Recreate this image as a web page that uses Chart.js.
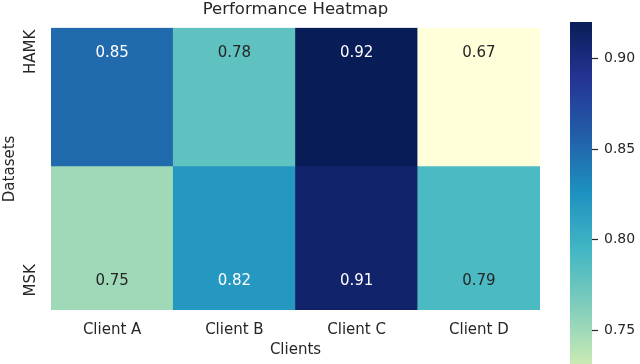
<!DOCTYPE html>
<html><head><meta charset="utf-8">
<script src="https://cdn.jsdelivr.net/npm/chart.js@4.4.1/dist/chart.umd.min.js"></script>
<style>
html,body{margin:0;padding:0;background:#fff;overflow:hidden;}
#wrap{position:relative;width:640px;height:364px;overflow:hidden;background:#fff;}
#main{position:absolute;left:0;top:0;}
#cb{position:absolute;left:560px;top:0;}
</style></head><body>
<div id="wrap">
<canvas id="main" width="640" height="364"></canvas>
<canvas id="cb" width="80" height="490"></canvas>
</div>
<script>
// ---- data ----
const clients = ['Client A', 'Client B', 'Client C', 'Client D'];
const datasetNames = ['HAMK', 'MSK'];
const hamk = [0.85, 0.78, 0.92, 0.67];
const msk = [0.75, 0.82, 0.91, 0.79];
const rowEdges = [-0.105, 0.5, 1.13];
const colorbarTicks = [0.75, 0.80, 0.85, 0.90];
const vmin = 0.67, vmax = 0.92;
const ylgnbu = ['#ffffd9','#edf8b1','#c7e9b4','#7fcdbb','#41b6c4','#1d91c0','#225ea8','#253494','#081d58'];

const F = "'DejaVu Sans', sans-serif";
const TXT = '#262626';

function hex2rgb(h){return [parseInt(h.slice(1,3),16),parseInt(h.slice(3,5),16),parseInt(h.slice(5,7),16)];}
function cmapRGB(v){
  let t = (v - vmin) / (vmax - vmin);
  t = Math.max(0, Math.min(1, t));
  const n = ylgnbu.length - 1;
  const i = Math.min(n - 1, Math.floor(t * n));
  const f = t * n - i;
  const a = hex2rgb(ylgnbu[i]), b = hex2rgb(ylgnbu[i+1]);
  return a.map((c, k) => Math.round(c + (b[k] - c) * f));
}
function cmap(v){const c = cmapRGB(v); return `rgb(${c[0]},${c[1]},${c[2]})`;}
function textColor(v){
  const lin = cmapRGB(v).map(c => {c /= 255; return c <= 0.03928 ? c / 12.92 : Math.pow((c + 0.055) / 1.055, 2.4);});
  const lum = 0.2126 * lin[0] + 0.7152 * lin[1] + 0.0722 * lin[2];
  return lum > 0.4 ? TXT : '#ffffff';
}

const rows = [hamk, msk];

const annot = {
  id: 'annot',
  afterDatasetsDraw(chart){
    const {ctx, scales: {x, y}} = chart;
    ctx.save();
    ctx.font = `15px ${F}`;
    ctx.textAlign = 'center';
    ctx.textBaseline = 'middle';
    rows.forEach((vals, r) => vals.forEach((v, c) => {
      ctx.fillStyle = textColor(v);
      ctx.fillText(v.toFixed(2), x.getPixelForValue(c), y.getPixelForValue(r) + 1);
    }));
    ctx.restore();
  }
};

new Chart(document.getElementById('main'), {
  type: 'bar',
  data: {
    labels: clients,
    datasets: rows.map((vals, r) => ({
      label: datasetNames[r],
      data: vals.map(() => [rowEdges[r], rowEdges[r + 1]]),
      backgroundColor: vals.map(cmap),
      borderWidth: 0,
      borderSkipped: false,
      barPercentage: 1,
      categoryPercentage: 1,
      grouped: false
    }))
  },
  options: {
    responsive: false,
    animation: false,
    devicePixelRatio: 1,
    layout: {padding: {left: 0, right: 100, top: 0, bottom: 0}},
    plugins: {
      legend: {display: false},
      tooltip: {enabled: false},
      title: {display: true, fullSize: false, text: 'Performance Heatmap', color: TXT,
        font: {family: F, size: 16.5, weight: 'normal'}, padding: {top: 0, bottom: 8}}
    },
    scales: {
      x: {
        type: 'category', offset: true,
        grid: {display: false, drawTicks: false}, border: {display: false},
        ticks: {color: TXT, font: {family: F, size: 15}, padding: 11},
        title: {display: true, text: 'Clients', color: TXT, font: {family: F, size: 15}, padding: {top: 0, bottom: 5}},
        afterFit(s){ s.height = 54; }
      },
      y: {
        type: 'linear', reverse: true, min: rowEdges[0], max: rowEdges[2],
        afterBuildTicks(s){ s.ticks = datasetNames.map((d, i) => ({value: i})); },
        ticks: {callback: (v) => datasetNames[v], color: TXT, font: {family: F, size: 15},
          minRotation: 90, maxRotation: 90, crossAlign: 'center', padding: -2},
        grid: {display: false, drawTicks: false}, border: {display: false},
        title: {display: true, text: 'Datasets', color: TXT, font: {family: F, size: 15}, padding: {top: 1, bottom: 0}},
        afterFit(s){ s.width = 51; }
      }
    }
  },
  plugins: [annot]
});

function cbGradient(ctx){
  const chart = ctx.chart;
  if (!chart.chartArea) return ylgnbu[4];
  const y = chart.scales.y;
  const y0 = y.getPixelForValue(vmin), y1 = y.getPixelForValue(vmax);
  const g = chart.ctx.createLinearGradient(0, y0, 0, y1);
  ylgnbu.forEach((c, i) => g.addColorStop(i / (ylgnbu.length - 1), c));
  return g;
}

new Chart(document.getElementById('cb'), {
  type: 'bar',
  data: {
    labels: [''],
    datasets: [{data: [[vmin, vmax]], backgroundColor: cbGradient, borderWidth: 0,
      barPercentage: 1, categoryPercentage: 1}]
  },
  options: {
    responsive: false,
    animation: false,
    devicePixelRatio: 1,
    layout: {padding: {left: 10, top: 22, bottom: 13, right: 0}},
    plugins: {legend: {display: false}, tooltip: {enabled: false}},
    scales: {
      x: {display: false},
      y: {
        position: 'right', min: vmin, max: vmax,
        afterBuildTicks(s){ s.ticks = colorbarTicks.map(v => ({value: v})); },
        ticks: {callback: (v) => v.toFixed(2), color: TXT, font: {family: F, size: 14}, padding: 6},
        grid: {drawOnChartArea: false, drawTicks: true, tickLength: 6, color: TXT, tickWidth: 1.2},
        border: {display: false},
        afterFit(s){ s.width = 48; }
      }
    }
  }
});
</script>
</body></html>
